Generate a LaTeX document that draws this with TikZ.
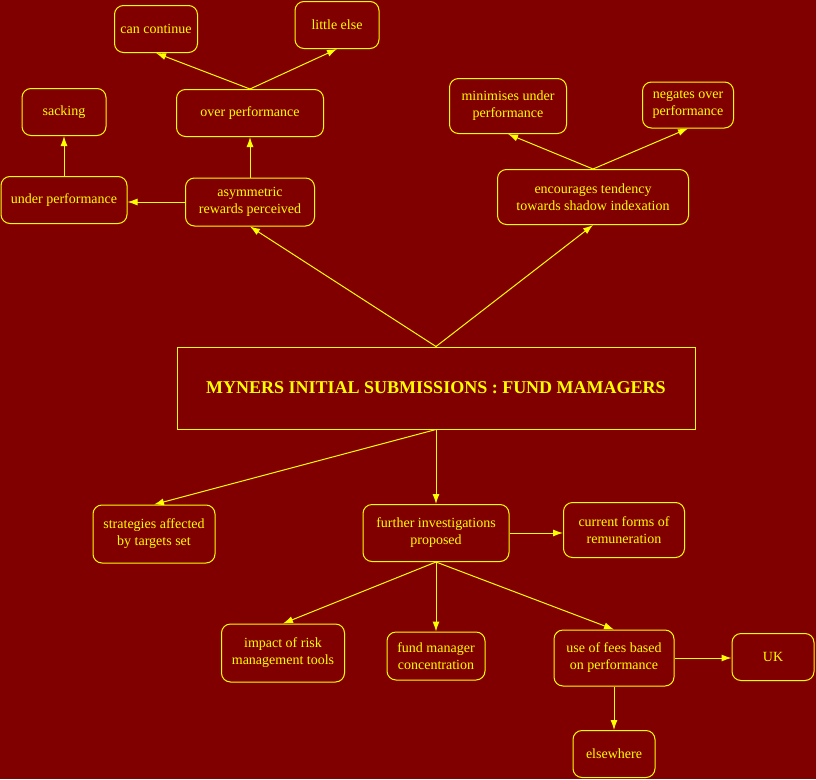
\documentclass[tikz,border=0pt]{standalone}
\usepackage{fontspec}
\setmainfont{Liberation Serif}
\usetikzlibrary{arrows.meta}
\definecolor{maroonbg}{RGB}{128,0,0}
\definecolor{yellowfg}{RGB}{255,255,0}

\begin{document}
\begin{tikzpicture}[x=1pt,y=-1pt,
    box/.style={draw=yellowfg, line width=1pt, rounded corners=9pt, text=yellowfg, align=center, minimum height=47pt, inner sep=2pt, font=\fontsize{14}{17}\selectfont},
    arr/.style={draw=yellowfg, line width=1pt, -{Latex[length=10pt,width=7pt]}}]

\fill[maroonbg] (0,0) rectangle (816,779);

\node[box, minimum width=83pt] (cancontinue) at (156,29) {can continue};
\node[box, minimum width=84pt] (littleelse) at (337,25) {little else};
\node[box, minimum width=84pt] (sacking) at (64,112) {sacking};
\node[box, minimum width=147pt] (over) at (250,113) {over performance};
\node[box, minimum width=126pt] (under) at (64,200) {under performance};
\node[box, minimum width=129pt, minimum height=48pt] (asym) at (250,202) {asymmetric\\rewards perceived};
\node[box, minimum width=117pt, minimum height=55pt] (minimises) at (508,106) {minimises under\\performance};
\node[box, minimum width=91pt, minimum height=46pt] (negates) at (688,105) {negates over\\performance};
\node[box, minimum width=191pt, minimum height=55pt] (shadow) at (593,197) {encourages tendency\\towards shadow indexation};

\node[draw=yellowfg, line width=1pt, text=yellowfg, minimum width=518pt, minimum height=82pt, font=\fontsize{18}{21}\selectfont\bfseries] (main) at (436,388) {MYNERS INITIAL SUBMISSIONS : FUND MAMAGERS};

\node[box, minimum width=122pt, minimum height=58pt] (strategies) at (154,534) {strategies affected\\by targets set};
\node[box, minimum width=146pt, minimum height=57pt] (further) at (436,533) {further investigations\\proposed};
\node[box, minimum width=121pt, minimum height=55pt] (current) at (624,530) {current forms of\\remuneration};
\node[box, minimum width=123pt, minimum height=58pt] (impact) at (283,653) {impact of risk\\management tools};
\node[box, minimum width=98pt, minimum height=48pt] (fundmanager) at (436,656) {fund manager\\concentration};
\node[box, minimum width=120pt, minimum height=56pt] (fees) at (614,658) {use of fees based\\on performance};
\node[box, minimum width=82pt] (uk) at (773,657) {UK};
\node[box, minimum width=82pt] (elsewhere) at (614,754) {elsewhere};

\draw[arr] (main.north) -- (asym.south);
\draw[arr] (main.north) -- (shadow.south);
\draw[arr] (asym.west) -- (asym.west -| under.east);
\draw[arr] (asym.north) -- (over.south);
\draw[arr] (under.north) -- (sacking.south);
\draw[arr] (over.north) -- (cancontinue.south);
\draw[arr] (over.north) -- (littleelse.south);
\draw[arr] (shadow.north) -- (minimises.south);
\draw[arr] (shadow.north) -- (negates.south);

\draw[arr] (main.south) -- (strategies.north);
\draw[arr] (main.south) -- (further.north);
\draw[arr] (further.east) -- (further.east -| current.west);
\draw[arr] (further.south) -- (impact.north);
\draw[arr] (further.south) -- (fundmanager.north);
\draw[arr] (further.south) -- (fees.north);
\draw[arr] (fees.east) -- (fees.east -| uk.west);
\draw[arr] (fees.south) -- (elsewhere.north);

\end{tikzpicture}
\end{document}
